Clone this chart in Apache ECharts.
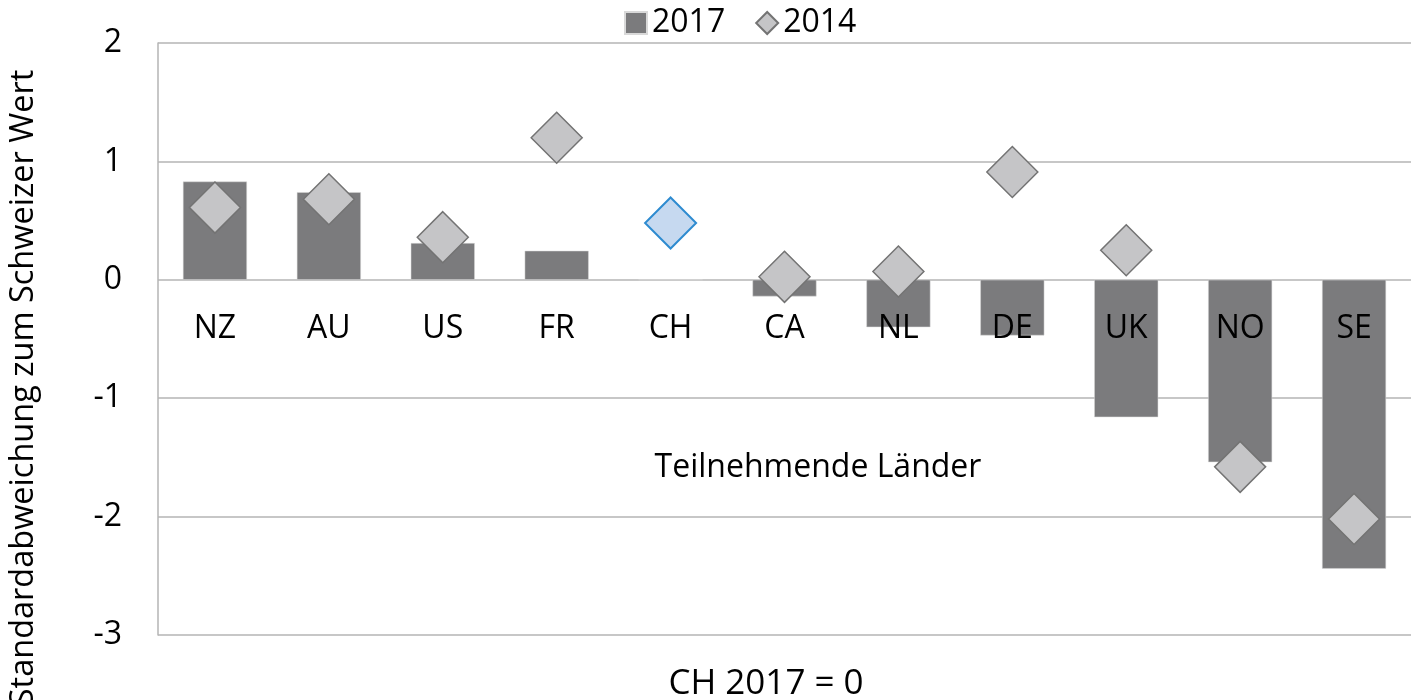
<!DOCTYPE html>
<html>
<head>
<meta charset="utf-8">
<script src="https://cdn.jsdelivr.net/npm/echarts@6/dist/echarts.min.js"></script>
<style>
  html, body { margin: 0; padding: 0; background: #fff; }
  #chart { width: 1411px; height: 700px; }
</style>
</head>
<body>
<div id="chart"></div>
<script>
const countries = ['NZ', 'AU', 'US', 'FR', 'CH', 'CA', 'NL', 'DE', 'UK', 'NO', 'SE'];
const values2017 = [0.83, 0.74, 0.31, 0.245, 0, -0.14, -0.40, -0.47, -1.16, -1.54, -2.44];
const values2014 = [0.61, 0.68, 0.36, 1.20, 0.48, 0.025, 0.07, 0.91, 0.25, -1.58, -2.02];
const yTicks = [-3, -2, -1, 0, 1, 2];

const font = 'Open Sans';
const gridColor = '#b4b4b4';

// plot area in px
const gridTop = 43, gridBottom = 65, chartH = 700;
const plotH = chartH - gridTop - gridBottom;
const yMin = yTicks[0], yMax = yTicks[yTicks.length - 1];
// move the category axis up onto the zero line
const zeroOffset = -plotH * (0 - yMin) / (yMax - yMin);

const chart = echarts.init(document.getElementById('chart'));

const diamonds = values2014.map((v, i) => {
  if (countries[i] === 'CH') {
    return { value: v, itemStyle: { color: '#c6d9f0', borderColor: '#2e8bd0', borderWidth: 2 } };
  }
  return v;
});

chart.setOption({
  animation: false,
  textStyle: { fontFamily: font },
  grid: { left: 158, right: 0, top: gridTop, bottom: gridBottom },
  legend: {
    top: 2,
    left: 619,
    itemWidth: 22,
    itemHeight: 22,
    itemGap: 30,
    textStyle: { fontFamily: font, fontSize: 32, color: '#000' },
    data: [
      { name: '2017', icon: 'rect' },
      { name: '2014', icon: 'diamond' }
    ]
  },
  xAxis: {
    type: 'category',
    data: countries,
    position: 'bottom',
    offset: zeroOffset,
    z: 10,
    axisLine: { show: false, onZero: false },
    axisTick: { show: false },
    axisLabel: { margin: 33, fontSize: 32, color: '#000', fontFamily: font }
  },
  yAxis: {
    type: 'value',
    min: yMin,
    max: yMax,
    interval: 1,
    axisLine: { show: true, lineStyle: { color: gridColor, width: 1.5 } },
    axisTick: { show: false },
    axisLabel: { margin: 36, fontSize: 32, color: '#000', fontFamily: font },
    splitLine: { lineStyle: { color: gridColor, width: 1.5 } }
  },
  graphic: [
    {
      type: 'text',
      x: 24, y: 388,
      rotation: Math.PI / 2,
      style: {
        text: 'Standardabweichung zum Schweizer Wert',
        font: '32.5px "' + font + '"',
        fill: '#000',
        align: 'center',
        verticalAlign: 'middle'
      }
    },
    {
      type: 'text',
      x: 818, y: 468,
      style: {
        text: 'Teilnehmende Länder',
        font: '32px "' + font + '"',
        fill: '#000',
        align: 'center',
        verticalAlign: 'middle'
      }
    },
    {
      type: 'text',
      x: 766, y: 684,
      style: {
        text: 'CH 2017 = 0',
        font: '35px "' + font + '"',
        fill: '#000',
        align: 'center',
        verticalAlign: 'middle'
      }
    }
  ],
  series: [
    {
      name: '2017',
      type: 'bar',
      data: values2017,
      barWidth: 64,
      itemStyle: { color: '#7b7b7d', borderColor: '#d9d9d9', borderWidth: 0.5 },
      z: 2
    },
    {
      name: '2014',
      type: 'scatter',
      data: diamonds,
      symbol: 'diamond',
      symbolSize: [51, 51],
      itemStyle: { color: '#c5c5c7', borderColor: '#737373', borderWidth: 1.5, opacity: 1 },
      z: 3
    }
  ]
});
</script>
</body>
</html>
